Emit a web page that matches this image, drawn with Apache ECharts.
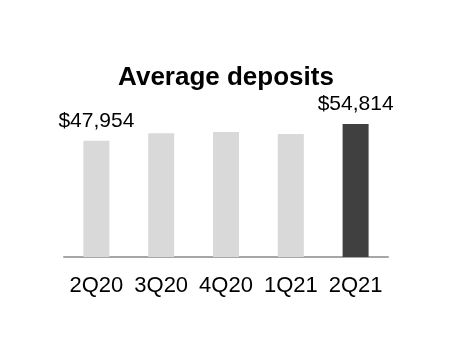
<!DOCTYPE html>
<html>
<head>
<meta charset="utf-8">
<script src="https://cdn.jsdelivr.net/npm/echarts@6/dist/echarts.min.js"></script>
<style>html,body{margin:0;padding:0;background:#fff}#c{width:452px;height:360px}</style>
</head>
<body>
<div id="c"></div>
<script>
const titleText = "Average deposits";
const categories = ["2Q20", "3Q20", "4Q20", "1Q21", "2Q21"];
const values = [47954, 50980, 51517, 50693, 54814];
const labelShown = [true, false, false, false, true];
const barColors = ["#d9d9d9", "#d9d9d9", "#d9d9d9", "#d9d9d9", "#404040"];

const FONT = "'Liberation Sans', Arial, sans-serif";
const chart = echarts.init(document.getElementById('c'), null, {renderer: 'canvas'});
chart.setOption({
  animation: false,
  backgroundColor: '#fff',
  title: {
    text: titleText,
    left: 'center',
    top: 60,
    textStyle: {fontFamily: FONT, fontSize: 26, fontWeight: 'bold', color: '#000'}
  },
  grid: {left: 64, right: 64, top: 111.4, bottom: 103, containLabel: false},
  xAxis: {
    type: 'category',
    data: categories,
    axisLine: {show: true, lineStyle: {color: '#a6a6a6', width: 2}},
    axisTick: {show: false},
    axisLabel: {interval: 0, fontFamily: FONT, fontSize: 22, color: '#000', margin: 18}
  },
  yAxis: {
    type: 'value', min: 0, max: 60000,
    show: false, splitLine: {show: false}
  },
  series: [{
    type: 'bar',
    barWidth: 26,
    data: values.map((v, i) => ({
      value: v,
      itemStyle: {color: barColors[i]},
      label: {
        show: labelShown[i],
        position: 'top',
        distance: 9,
        formatter: p => '$' + p.value.toLocaleString('en-US'),
        fontFamily: FONT, fontSize: 21, color: '#000'
      }
    }))
  }]
});
</script>
</body>
</html>
